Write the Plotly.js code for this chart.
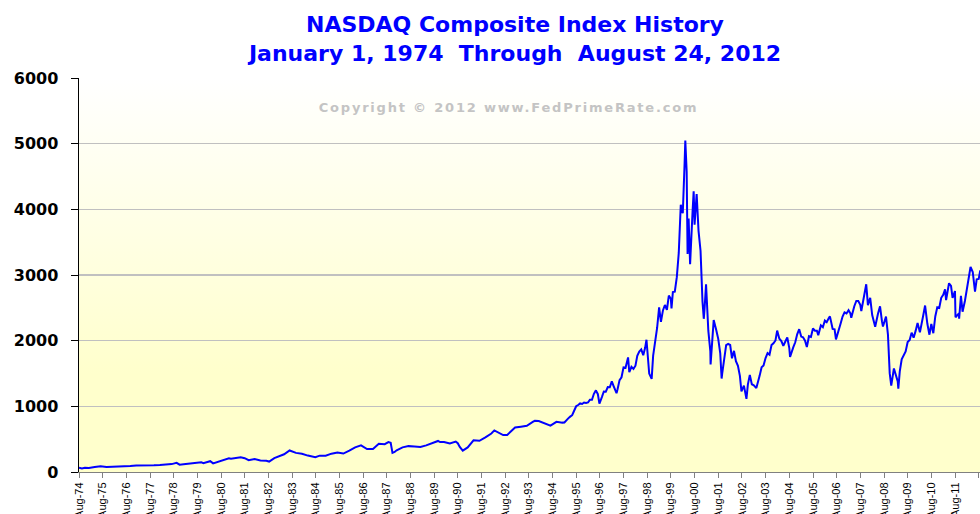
<!DOCTYPE html>
<html>
<head>
<meta charset="utf-8">
<script src="https://cdn.plot.ly/plotly-3.0.1.min.js"></script>
<style>
html,body{margin:0;padding:0;background:#fff;}
#chart{width:980px;height:514px;}
#chart .annotation-text{letter-spacing:1.8px;}
</style>
</head>
<body>
<div id="chart"></div>
<script>
// NASDAQ Composite, values read/
const dates = [
"1974-08-01","1974-09-15","1974-10-31","1974-12-31",
"1975-03-31","1975-06-30","1975-09-30","1975-12-31",
"1976-03-31","1976-06-30","1976-09-30","1976-12-31",
"1977-03-31","1977-06-30","1977-09-30","1977-12-31",
"1978-03-31","1978-06-30","1978-09-15","1978-10-31","1978-12-31",
"1979-03-31","1979-06-30","1979-09-30","1979-10-31","1979-12-31",
"1980-02-15","1980-03-31","1980-06-30","1980-09-30","1980-11-30","1980-12-31",
"1981-03-31","1981-05-31","1981-07-31","1981-09-30","1981-12-31",
"1982-03-31","1982-06-30","1982-08-12","1982-10-31","1982-12-31",
"1983-03-31","1983-06-24","1983-09-30","1983-12-31",
"1984-03-31","1984-07-25","1984-09-30","1984-12-31",
"1985-03-31","1985-06-30","1985-09-30","1985-12-31",
"1986-03-31","1986-06-30","1986-09-30","1986-12-31",
"1987-03-31","1987-06-30","1987-08-26","1987-09-30","1987-10-28","1987-11-30","1987-12-31",
"1988-03-31","1988-06-30","1988-09-30","1988-12-31",
"1989-03-31","1989-06-30","1989-09-30","1989-10-31","1989-12-31",
"1990-03-31","1990-06-30","1990-07-31","1990-08-31","1990-10-16","1990-12-31",
"1991-03-31","1991-06-30","1991-09-30","1991-12-31",
"1992-02-15","1992-06-30","1992-08-31","1992-12-31",
"1993-03-31","1993-06-30","1993-09-30","1993-10-31","1993-12-31",
"1994-03-31","1994-06-30","1994-09-30","1994-11-30","1994-12-31",
"1995-01-31","1995-02-28","1995-03-31","1995-04-30","1995-05-31","1995-06-30",
"1995-07-31","1995-08-31","1995-09-30","1995-10-31","1995-11-30","1995-12-31",
"1996-01-31","1996-02-29","1996-03-31","1996-04-30","1996-05-31","1996-06-30",
"1996-07-24","1996-08-31","1996-09-30","1996-10-31","1996-11-30","1996-12-31",
"1997-01-31","1997-02-28","1997-04-14","1997-04-30","1997-05-31","1997-06-30",
"1997-07-31","1997-08-31","1997-10-09","1997-10-28","1997-11-30","1997-12-31",
"1998-01-31","1998-02-28","1998-03-31","1998-04-30","1998-05-31","1998-06-30",
"1998-07-20","1998-08-31","1998-10-08","1998-10-31","1998-11-30","1998-12-31",
"1999-01-31","1999-02-28","1999-03-31","1999-04-30","1999-05-31","1999-06-30",
"1999-07-31","1999-08-10","1999-08-31","1999-09-30","1999-10-31","1999-11-30","1999-12-31",
"2000-01-31","2000-02-28","2000-03-10","2000-03-31","2000-04-14","2000-04-30",
"2000-05-23","2000-06-30","2000-07-17","2000-07-31","2000-09-01","2000-09-30",
"2000-10-31","2000-11-30","2000-12-20","2000-12-31",
"2001-01-24","2001-02-28","2001-03-31","2001-04-04","2001-04-30","2001-05-22",
"2001-06-30","2001-07-31","2001-08-31","2001-09-21","2001-09-30","2001-10-31",
"2001-11-30","2001-12-31",
"2002-01-31","2002-02-28","2002-03-31","2002-04-30","2002-05-31","2002-06-30",
"2002-07-24","2002-08-31","2002-09-30","2002-10-09","2002-10-31","2002-11-30","2002-12-31",
"2003-01-31","2003-03-11","2003-03-31","2003-04-30","2003-05-31","2003-06-30",
"2003-07-31","2003-08-31","2003-09-30","2003-10-31","2003-11-30","2003-12-31",
"2004-01-26","2004-02-29","2004-03-31","2004-04-30","2004-05-31","2004-06-30",
"2004-07-31","2004-08-12","2004-09-30","2004-10-31","2004-11-30","2004-12-31",
"2005-01-31","2005-02-28","2005-03-31","2005-04-28","2005-05-31","2005-06-30",
"2005-07-31","2005-08-31","2005-09-30","2005-10-21","2005-11-30","2005-12-31",
"2006-01-31","2006-02-28","2006-03-31","2006-04-19","2006-05-31","2006-06-30",
"2006-07-21","2006-08-31","2006-09-30","2006-10-31","2006-11-30","2006-12-31",
"2007-01-31","2007-02-28","2007-03-14","2007-04-30","2007-05-31","2007-06-30",
"2007-07-31","2007-08-16","2007-09-30","2007-10-31","2007-11-26","2007-12-31",
"2008-01-31","2008-02-28","2008-03-17","2008-04-30","2008-05-31","2008-06-30",
"2008-07-15","2008-08-31","2008-09-30","2008-10-27","2008-11-20","2008-12-31",
"2009-01-31","2009-02-28","2009-03-09","2009-03-31","2009-04-30","2009-05-31",
"2009-06-30","2009-07-31","2009-08-31","2009-09-30","2009-10-31","2009-11-30","2009-12-31",
"2010-01-31","2010-02-05","2010-03-31","2010-04-26","2010-05-31","2010-07-02",
"2010-07-31","2010-08-31","2010-09-30","2010-10-31","2010-11-30","2010-12-31",
"2011-01-31","2011-02-28","2011-03-16","2011-04-30","2011-05-31","2011-06-24",
"2011-07-31","2011-08-08","2011-09-30","2011-10-03","2011-10-31","2011-11-25","2011-12-31",
"2012-01-31","2012-02-29","2012-03-27","2012-04-30","2012-06-04","2012-06-30",
"2012-07-31","2012-08-24"
];
const values = [
 66, 55, 65, 60,
 76, 87, 76, 78,
 90, 90, 90, 98,
 96, 101, 101, 105,
 108, 120, 139, 111, 118,
 131, 137, 149, 134, 151,
 165, 131, 158, 187, 208, 202,
 210, 223, 210, 180, 196,
 176, 171, 159, 212, 232,
 270, 328, 291, 279,
 250, 226, 249, 247,
 279, 296, 281, 325,
 375, 405, 350, 349,
 430, 424, 455, 444, 292, 305, 330,
 375, 394, 388, 381,
 406, 435, 473, 456, 455,
 435, 462, 438, 381, 325, 374,
 482, 475, 527, 586,
 633, 563, 563, 677,
 690, 704, 763, 779, 777,
 743, 706, 764, 750, 752,
 755, 793, 817, 843, 865, 933,
 1001, 1020, 1044, 1036, 1059, 1052,
 1060, 1100, 1101, 1191, 1243, 1185,
 1042, 1141, 1226, 1222, 1293, 1291,
 1380, 1309, 1201, 1261, 1400, 1442,
 1594, 1587, 1745, 1519, 1601, 1570,
 1619, 1771, 1835, 1868, 1779, 1895,
 2014, 1499, 1419, 1771, 1950, 2193,
 2506, 2288, 2461, 2543, 2471, 2686,
 2638, 2490, 2739, 2746, 2967, 3336, 4069,
 3940, 4697, 5048, 4573, 3321, 3861,
 3164, 3966, 4274, 3767, 4234, 3673,
 3370, 2598, 2333, 2471,
 2859, 2152, 1840, 1638, 2116, 2313,
 2161, 2027, 1805, 1423, 1499, 1690,
 1931, 1950,
 1934, 1731, 1845, 1688, 1616, 1463,
 1229, 1315, 1172, 1114, 1330, 1479, 1336,
 1321, 1278, 1341, 1464, 1596, 1623,
 1735, 1810, 1787, 1932, 1960, 2003,
 2153, 2030, 1994, 1920, 1987, 2048,
 1887, 1752, 1897, 1975, 2097, 2175,
 2062, 2052, 1999, 1904, 2068, 2057,
 2185, 2152, 2152, 2083, 2233, 2205,
 2306, 2281, 2340, 2370, 2179, 2172,
 2020, 2184, 2258, 2367, 2432, 2415,
 2464, 2416, 2350, 2525, 2605, 2603,
 2546, 2452, 2701, 2859, 2541, 2652,
 2390, 2271, 2212, 2413, 2523, 2293,
 2215, 2368, 2092, 1505, 1316, 1577,
 1476, 1378, 1269, 1529, 1717, 1774,
 1835, 1979, 2009, 2122, 2045, 2145, 2269,
 2147, 2126, 2398, 2535, 2257, 2091,
 2255, 2114, 2369, 2507, 2498, 2653,
 2700, 2782, 2617, 2874, 2835, 2652,
 2756, 2357, 2415, 2335, 2684, 2441, 2605,
 2814, 2967, 3122, 3046, 2747, 2935,
 2940, 3070
];
const titleText = "NASDAQ Composite Index History<br>January 1, 1974&nbsp; Through&nbsp; August 24, 2012";
const copyrightText = "Copyright © 2012 www.FedPrimeRate.com";
const yTickVals = [0, 1000, 2000, 3000, 4000, 5000, 6000];

const grad = 'data:image/svg+xml;utf8,' + encodeURIComponent(
 '<svg xmlns="http://www.w3.org/2000/svg" width="10" height="100" preserveAspectRatio="none">' +
 '<defs><linearGradient id="g" x1="0" y1="0" x2="0" y2="1">' +
 '<stop offset="0" stop-color="#ffffff"/><stop offset="0.75" stop-color="#ffffcc"/><stop offset="1" stop-color="#ffffcc"/>' +
 '</linearGradient></defs><rect width="10" height="100" fill="url(#g)"/></svg>');

const trace = {
  x: dates, y: values, type: 'scatter', mode: 'lines',
  line: {color: '#0000ff', width: 2},
  hoverinfo: 'x+y'
};

const layout = {
  width: 980, height: 514,
  margin: {l: 79, r: 0, t: 78, b: 42},
  paper_bgcolor: '#ffffff',
  plot_bgcolor: 'rgba(0,0,0,0)',
  showlegend: false,
  title: {
    text: titleText,
    x: 515/980, xanchor: 'center', xref: 'container',
    y: 1 - 32/514, yanchor: 'top', yref: 'container',
    font: {family: 'DejaVu Sans, Verdana, sans-serif', size: 22, color: '#0000ff', weight: 'bold'}
  },
  xaxis: {
    type: 'date',
    range: ['1974-08-01', '2012-08-20'],
    tick0: '1974-08-01', dtick: 'M12',
    tickformat: '%b-%y',
    tickangle: -90,
    ticks: 'outside', ticklen: 5, tickcolor: '#808080',
    showline: true, linecolor: '#808080', linewidth: 1,
    showgrid: false, zeroline: false,
    tickfont: {family: 'Liberation Sans Narrow, Arial Narrow, Liberation Sans, sans-serif', size: 11, color: '#000'}
  },
  yaxis: {
    range: [0, 6000],
    tickvals: yTickVals,
    ticks: 'outside', ticklen: 7, tickcolor: '#000',
    ticklabelstandoff: 9,
    showline: true, linecolor: '#000', linewidth: 1.5,
    showgrid: true, gridcolor: '#c0c0c0', gridwidth: 1.5,
    zeroline: false,
    tickfont: {family: 'DejaVu Sans, Verdana, sans-serif', size: 16, color: '#000', weight: 'bold'}
  },
  images: [{
    source: grad, xref: 'paper', yref: 'paper', x: 0, y: 1, sizex: 1, sizey: 1,
    xanchor: 'left', yanchor: 'top', sizing: 'stretch', layer: 'below'
  }],
  annotations: [{
    text: copyrightText, xref: 'paper', yref: 'paper',
    x: (508-79)/901, y: 1 - (107-78)/394, xanchor: 'center', yanchor: 'middle',
    showarrow: false,
    font: {family: 'DejaVu Sans, Verdana, sans-serif', size: 13, color: '#c4c4c4', weight: 'bold'}
  }]
};

Plotly.newPlot('chart', [trace], layout, {displayModeBar: false, staticPlot: true});
</script>
</body>
</html>
